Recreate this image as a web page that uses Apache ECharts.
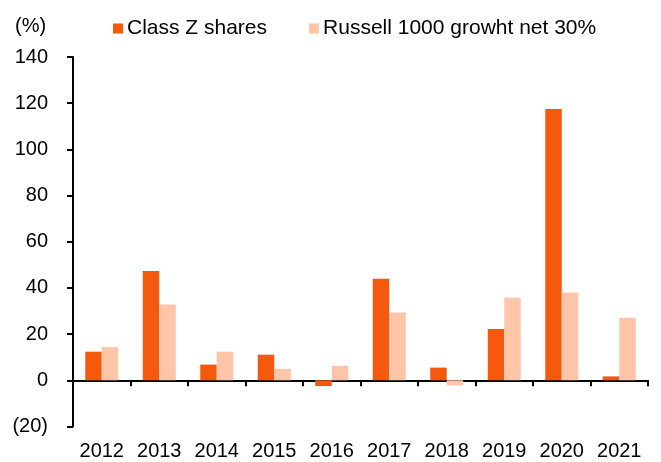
<!DOCTYPE html>
<html lang="en">
<head>
    <meta charset="UTF-8">
    <title>Class Z shares vs Russell 1000</title>
    <script src="https://cdn.jsdelivr.net/npm/echarts@6/dist/echarts.min.js"></script>
    <style>
        body { margin: 0; background: #fff; }
    </style>
</head>
<body>
    <div id="main" style="width: 661px;height:462px;"></div>
    <script type="text/javascript">
        // chart data
        const years = ['2012', '2013', '2014', '2015', '2016', '2017', '2018', '2019', '2020', '2021'];
        const classZ = [12.4, 47.3, 6.8, 11.1, -2.5, 44.0, 5.5, 22.2, 117.5, 1.7];
        const russell = [14.4, 32.8, 12.4, 5.0, 6.3, 29.4, -2.2, 35.8, 38.0, 27.1];
        const seriesNames = ['Class Z shares', 'Russell 1000 growht net 30%'];

        const font = 'Liberation Sans, Arial, sans-serif';

        let myChart = echarts.init(document.getElementById('main'));

        let options = {
            animation: false,
            textStyle: { fontFamily: font },
            title: {
                text: '(%)',
                left: 10,
                top: 11,
                textStyle: { fontSize: 20, fontWeight: 'normal', color: '#000', fontFamily: font }
            },
            legend: {
                data: seriesNames,
                left: 108,
                top: 13,
                itemWidth: 10,
                itemHeight: 10,
                itemGap: 42,
                icon: 'rect',
                textStyle: { fontSize: 21, color: '#000', padding: [0, 0, 0, -1] }
            },
            grid: { left: 73, right: 13, top: 57, bottom: 35.5 },
            xAxis: [{
                type: 'category',
                data: years,
                axisLine: { onZero: true, lineStyle: { color: '#000', width: 2 } },
                axisTick: { show: true, length: 6, lineStyle: { color: '#000', width: 2 } },
                axisLabel: { show: false }
            }, {
                type: 'category',
                data: years,
                position: 'bottom',
                axisLine: { show: false, onZero: false },
                axisTick: { show: false },
                axisLabel: { fontSize: 20, color: '#000', margin: 15, interval: 0 }
            }],
            yAxis: {
                type: 'value',
                min: -20,
                max: 140,
                interval: 20,
                splitLine: { show: false },
                axisLine: { show: true, lineStyle: { color: '#000', width: 2 } },
                axisTick: { show: true, length: 6, lineStyle: { color: '#000', width: 2 } },
                axisLabel: {
                    fontSize: 20,
                    color: '#000',
                    margin: 25,
                    formatter: v => v < 0 ? '(' + Math.abs(v) + ')' : String(v)
                }
            },
            series: [{
                name: seriesNames[0],
                type: 'bar',
                data: classZ,
                barWidth: 16.5,
                barGap: '0%',
                itemStyle: { color: '#F5590E' }
            }, {
                name: seriesNames[1],
                type: 'bar',
                data: russell,
                barWidth: 16.5,
                barGap: '0%',
                itemStyle: { color: '#FFC5A9' }
            }]
        };

        myChart.setOption(options);
    </script>
</body>
</html>
